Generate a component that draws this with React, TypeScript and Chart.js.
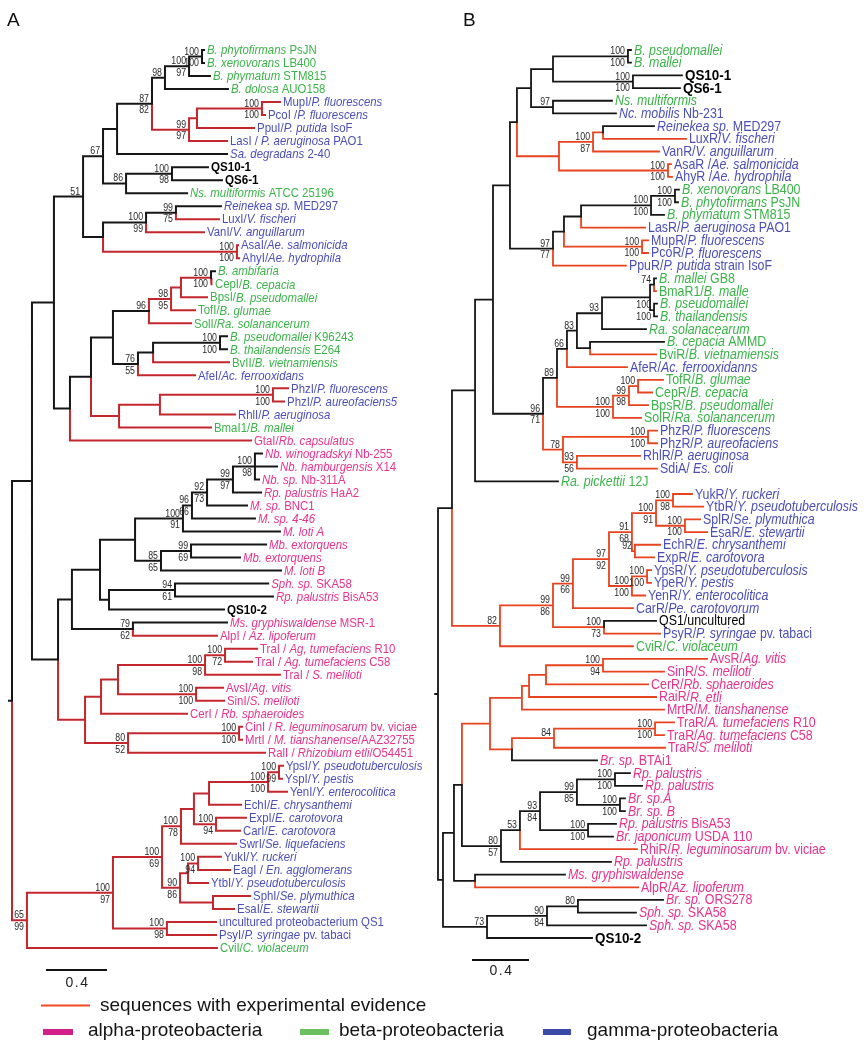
import React, { useEffect, useRef } from 'react';
import { Chart, registerables } from 'chart.js';

Chart.register(...registerables);

// ---------------- DATA ----------------
// Internal nodes: [id, parent, depth (substitutions/site), experimental(red branch)=1, support above, support below]
const nodesA: any[] = [
  ['R', '', 0, 0],
  ['n32', 'R', 0.131, 0],
  ['n27', 'R', 0.098, 1, '65', '99'],
  ['n54', 'n32', 0.275, 0],
  ['n58', 'n32', 0.302, 0],
  ['n83', 'n54', 0.466, 0, '51'],
  ['n70', 'n54', 0.38, 0],
  ['n103a', 'n83', 0.597, 0, '67'],
  ['n103b', 'n83', 0.597, 0],
  ['n117', 'n103a', 0.689, 0],
  ['n126', 'n103a', 0.748, 0, '86'],
  ['n152', 'n117', 0.918, 0, '87', '82'],
  ['n165', 'n152', 1.003, 0, '98'],
  ['n189b', 'n165', 1.161, 0, '100', '97'],
  ['n202', 'n189b', 1.246, 0, '100', '100'],
  ['n189', 'n152', 1.161, 1, '99', '97'],
  ['n197', 'n189', 1.213, 1],
  ['n262', 'n197', 1.639, 1, '100', '100'],
  ['n172', 'n126', 1.049, 0, '100', '98'],
  ['n146', 'n103b', 0.879, 0, '100', '99'],
  ['n176', 'n146', 1.075, 0, '99', '75'],
  ['n237', 'n103b', 1.475, 1, '100', '100'],
  ['n91', 'n70', 0.518, 0],
  ['n113c', 'n91', 0.662, 0],
  ['n149', 'n113c', 0.898, 0, '96'],
  ['n171', 'n149', 1.043, 1, '98', '95'],
  ['n181a', 'n171', 1.108, 1],
  ['n211', 'n181a', 1.305, 1, '100', '100'],
  ['n138', 'n113c', 0.826, 0, '76', '55'],
  ['n153', 'n138', 0.925, 0],
  ['n220', 'n153', 1.364, 0, '100', '100'],
  ['n119', 'n91', 0.702, 1],
  ['n160', 'n119', 0.97, 1],
  ['n273', 'n160', 1.711, 1, '100', '100'],
  ['n72', 'n58', 0.393, 0],
  ['n100', 'n72', 0.577, 0],
  ['n135', 'n100', 0.807, 0],
  ['n183', 'n135', 1.121, 0, '100', '91'],
  ['n192', 'n183', 1.18, 0, '96', '66'],
  ['n207', 'n192', 1.279, 0, '92', '73'],
  ['n233', 'n207', 1.449, 0, '99', '97'],
  ['n255', 'n233', 1.593, 0, '100', '98'],
  ['n161', 'n135', 0.977, 0, '85', '65'],
  ['n191', 'n161', 1.174, 0, '99', '69'],
  ['n109', 'n100', 0.636, 0],
  ['n175', 'n109', 1.069, 0, '94', '61'],
  ['n133', 'n72', 0.793, 0, '79', '62'],
  ['n85', 'n58', 0.479, 1],
  ['n101', 'n85', 0.584, 1],
  ['n118', 'n101', 0.695, 1],
  ['n205', 'n118', 1.266, 1, '100', '98'],
  ['n225', 'n205', 1.397, 1, '100', '72'],
  ['n196', 'n118', 1.207, 1, '100', '100'],
  ['n128', 'n85', 0.761, 1, '80', '52'],
  ['n239', 'n128', 1.489, 1, '100', '100'],
  ['n113', 'n27', 0.662, 1, '100', '97'],
  ['n162', 'n113', 0.984, 1, '100', '69'],
  ['n181', 'n162', 1.108, 1, '100', '78'],
  ['n194', 'n181', 1.193, 1],
  ['n209', 'n194', 1.292, 1],
  ['n268', 'n209', 1.679, 1, '100', '100'],
  ['n279', 'n268', 1.751, 1, '100', '99'],
  ['n216', 'n194', 1.338, 1, '100', '94'],
  ['n180', 'n162', 1.102, 1, '90', '86'],
  ['n188', 'n180', 1.154, 1],
  ['n198', 'n188', 1.22, 1, '100', '94'],
  ['n213', 'n180', 1.318, 1],
  ['n167', 'n113', 1.016, 1, '100', '98'],
];

// Leaves (top to bottom): [label (*italic*), group, parent, depth, red]
// groups: a = alpha, b = beta, g = gamma, q = query clone (bold), k = plain black
const leavesA: any[] = [
  ['*B. phytofirmans* PsJN', 'b', 'n202', 1.259, 0],
  ['*B. xenovorans* LB400', 'b', 'n202', 1.259, 0],
  ['*B. phymatum* STM815', 'b', 'n189b', 1.298, 0],
  ['*B. dolosa* AUO158', 'b', 'n165', 1.416, 0],
  ['MupI/*P. fluorescens*', 'g', 'n262', 1.757, 1],
  ['PcoI /*P. fluorescens*', 'g', 'n262', 1.659, 1],
  ['PpuI/*P. putida* IsoF', 'g', 'n197', 1.587, 1],
  ['LasI / *P. aeruginosa* PAO1', 'g', 'n189', 1.41, 1],
  ['*Sa. degradans* 2-40', 'g', 'n117', 1.41, 0],
  ['QS10-1', 'q', 'n172', 1.285, 0],
  ['QS6-1', 'q', 'n172', 1.377, 0],
  ['*Ns. multiformis* ATCC 25196', 'b', 'n126', 1.148, 0],
  ['*Reinekea sp.* MED297', 'g', 'n176', 1.37, 0],
  ['LuxI/*V. fischeri*', 'g', 'n176', 1.357, 1],
  ['VanI/*V. anguillarum*', 'g', 'n146', 1.259, 1],
  ['AsaI/*Ae. salmonicida*', 'g', 'n237', 1.482, 1],
  ['AhyI/*Ae. hydrophila*', 'g', 'n237', 1.489, 1],
  ['*B. ambifaria*', 'b', 'n211', 1.331, 0],
  ['CepI/*B. cepacia*', 'b', 'n211', 1.311, 1],
  ['BpsI/*B. pseudomallei*', 'b', 'n181a', 1.279, 1],
  ['TofI/*B. glumae*', 'b', 'n171', 1.2, 1],
  ['SolI/*Ra. solanancerum*', 'b', 'n149', 1.174, 1],
  ['*B. pseudomallei* K96243', 'b', 'n220', 1.41, 0],
  ['*B. thailandensis* E264', 'b', 'n220', 1.41, 0],
  ['BvII/*B. vietnamiensis*', 'b', 'n153', 1.423, 1],
  ['AfeI/*Ac. ferrooxidans*', 'g', 'n138', 1.2, 1],
  ['PhzI/*P. fluorescens*', 'g', 'n273', 1.81, 1],
  ['PhzI/*P. aureofaciens5*', 'g', 'n273', 1.784, 1],
  ['RhlI/*P. aeruginosa*', 'g', 'n160', 1.462, 1],
  ['BmaI1/*B. mallei*', 'b', 'n119', 1.305, 1],
  ['GtaI/*Rb. capsulatus*', 'a', 'n70', 1.567, 1],
  ['*Nb. winogradskyi* Nb-255', 'a', 'n255', 1.639, 0],
  ['*Nb. hamburgensis* X14', 'a', 'n255', 1.738, 0],
  ['*Nb. sp.* Nb-311A', 'a', 'n255', 1.62, 0],
  ['*Rp. palustris* HaA2', 'a', 'n233', 1.633, 0],
  ['*M. sp.* BNC1', 'a', 'n207', 1.541, 0],
  ['*M. sp. 4-46*', 'a', 'n192', 1.593, 0],
  ['*M. loti A*', 'a', 'n183', 1.757, 0],
  ['*Mb. extorquens*', 'a', 'n191', 1.666, 0],
  ['*Mb. extorquens*', 'a', 'n191', 1.495, 0],
  ['*M. loti B*', 'a', 'n161', 1.764, 0],
  ['*Sph. sp.* SKA58', 'a', 'n175', 1.68, 0],
  ['*Rp. palustris* BisA53', 'a', 'n175', 1.711, 0],
  ['QS10-2', 'q', 'n109', 1.39, 0],
  ['*Ms. gryphiswaldense* MSR-1', 'a', 'n133', 1.41, 0],
  ['AlpI / *Az. lipoferum*', 'a', 'n133', 1.344, 1],
  ['TraI / *Ag, tumefaciens* R10', 'a', 'n225', 1.607, 1],
  ['TraI / *Ag. tumefaciens* C58', 'a', 'n225', 1.574, 1],
  ['TraI / *S. meliloti*', 'a', 'n205', 1.757, 1],
  ['AvsI/*Ag. vitis*', 'a', 'n196', 1.384, 1],
  ['SinI/*S. meliloti*', 'a', 'n196', 1.39, 1],
  ['CerI / *Rb. sphaeroides*', 'a', 'n101', 1.148, 1],
  ['CinI / *R. leguminosarum* bv. viciae', 'a', 'n239', 1.508, 1],
  ['MrtI / *M. tianshanense*/AAZ32755', 'a', 'n239', 1.508, 1],
  ['RalI / *Rhizobium etli*/O54451', 'a', 'n128', 1.659, 1],
  ['YpsI/*Y. pseudotuberculosis*', 'g', 'n279', 1.777, 1],
  ['YspI/*Y. pestis*', 'g', 'n279', 1.77, 1],
  ['YenI/*Y. enterocolitica*', 'g', 'n268', 1.803, 1],
  ['EchI/*E. chrysanthemi*', 'g', 'n209', 1.502, 1],
  ['ExpI/*E. carotovora*', 'g', 'n216', 1.534, 1],
  ['CarI/*E. carotovora*', 'g', 'n216', 1.495, 1],
  ['SwrI/*Se. liquefaciens*', 'g', 'n181', 1.469, 1],
  ['YukI/*Y. ruckeri*', 'g', 'n198', 1.37, 1],
  ['EagI / *En. agglomerans*', 'g', 'n198', 1.43, 1],
  ['YtbI/*Y. pseudotuberculosis*', 'g', 'n188', 1.285, 1],
  ['SphI/*Se. plymuthica*', 'g', 'n213', 1.561, 1],
  ['EsaI/*E. stewartii*', 'g', 'n213', 1.456, 1],
  ['uncultured proteobacterium QS1', 'g', 'n167', 1.338, 1],
  ['PsyI/*P. syringae* pv. tabaci', 'g', 'n167', 1.338, 1],
  ['CviI/*C. violaceum*', 'b', 'n27', 1.344, 1],
];

const nodesB: any[] = [
  ['R', '', 0, 0],
  ['n452', 'R', 0.098, 0],
  ['n443', 'R', 0.035, 0],
  ['n475', 'n452', 0.26, 0],
  ['n500', 'n452', 0.435, 1, '82'],
  ['n493', 'n475', 0.386, 0],
  ['n510', 'n493', 0.505, 0],
  ['n543', 'n493', 0.737, 0, '96', '71'],
  ['n517', 'n510', 0.554, 0],
  ['n553', 'n510', 0.807, 0, '97', '77'],
  ['n531', 'n517', 0.653, 0],
  ['n559', 'n517', 0.849, 1],
  ['n553a', 'n531', 0.807, 0],
  ['n553b', 'n531', 0.807, 0, '97'],
  ['n628', 'n553a', 1.333, 0, '100', '100'],
  ['n633', 'n553a', 1.368, 0, '100', '100'],
  ['n593', 'n559', 1.088, 1, '100', '87'],
  ['n603a', 'n593', 1.158, 1],
  ['n668', 'n559', 1.614, 1, '100', '100'],
  ['n564', 'n553', 0.884, 0],
  ['n581', 'n564', 1.004, 0],
  ['n651', 'n581', 1.495, 0, '100', '100'],
  ['n675', 'n651', 1.663, 0, '100', '100'],
  ['n642', 'n564', 1.432, 1, '100', '100'],
  ['n557', 'n543', 0.835, 0, '89'],
  ['n567', 'n557', 0.905, 0, '66'],
  ['n577', 'n567', 0.975, 0, '83'],
  ['n602', 'n577', 1.151, 0, '93'],
  ['n650', 'n602', 1.488, 0],
  ['n654h', 'n650', 1.516, 0, '74'],
  ['n654i', 'n650', 1.516, 0, '100', '100'],
  ['n590', 'n577', 1.067, 0],
  ['n613', 'n557', 1.228, 1, '100', '100'],
  ['n629', 'n613', 1.34, 1, '99', '98'],
  ['n638', 'n629', 1.404, 1, '100'],
  ['n563', 'n543', 0.877, 1, '78'],
  ['n648', 'n563', 1.474, 1, '100', '100'],
  ['n577b', 'n563', 0.975, 1, '93', '56'],
  ['nj', 'n500', 0.807, 1, '99', '86'],
  ['nk', 'nj', 0.947, 1, '99', '66'],
  ['nl', 'nj', 1.165, 1, '100', '73'],
  ['nm', 'nk', 1.2, 1, '97', '92'],
  ['nn', 'nm', 1.361, 1, '91', '68'],
  ['no', 'nm', 1.361, 1, '100', '100'],
  ['np', 'no', 1.467, 1, '100', '100'],
  ['n656', 'nn', 1.53, 1, '100', '91'],
  ['n673', 'n656', 1.649, 1, '100', '98'],
  ['n685', 'n656', 1.733, 1, '100', '100'],
  ['n635', 'nn', 1.382, 1, '92'],
  ['n454', 'n443', 0.112, 0],
  ['n487', 'n443', 0.344, 0, '73'],
  ['n462', 'n454', 0.168, 0],
  ['n475b', 'n454', 0.26, 0],
  ['n490', 'n462', 0.365, 1],
  ['n501', 'n462', 0.442, 0, '80', '57'],
  ['n522', 'n490', 0.589, 1],
  ['n529', 'n522', 0.639, 1],
  ['n546', 'n529', 0.758, 1],
  ['n603b', 'n546', 1.158, 1, '100', '94'],
  ['n512', 'n490', 0.519, 1],
  ['n554', 'n512', 0.814, 1, '84'],
  ['n655', 'n554', 1.523, 1, '100', '100'],
  ['n520', 'n501', 0.575, 0, '53'],
  ['n540', 'n520', 0.716, 0, '93', '84'],
  ['n577c', 'n540', 0.975, 0, '99', '85'],
  ['n615', 'n577c', 1.242, 0, '100', '100'],
  ['n620', 'n577c', 1.277, 0, '100', '100'],
  ['n588', 'n540', 1.053, 0, '100', '100'],
  ['n547', 'n487', 0.765, 0, '90', '84'],
  ['n578', 'n547', 0.982, 0, '80'],
];

const leavesB: any[] = [
  ['*B. pseudomallei*', 'b', 'n628', 1.354, 0],
  ['*B. mallei*', 'b', 'n628', 1.354, 0],
  ['QS10-1', 'q', 'n633', 1.712, 0],
  ['QS6-1', 'q', 'n633', 1.698, 0],
  ['*Ns. multiformis*', 'b', 'n553b', 1.221, 0],
  ['*Nc. mobilis* Nb-231', 'g', 'n553b', 1.249, 0],
  ['*Reinekea sp.* MED297', 'g', 'n603a', 1.516, 0],
  ['LuxR/*V. fischeri*', 'g', 'n603a', 1.74, 1],
  ['VanR/*V. anguillarum*', 'g', 'n593', 1.551, 1],
  ['AsaR /*Ae. salmonicida*', 'g', 'n668', 1.635, 1],
  ['AhyR /*Ae. hydrophila*', 'g', 'n668', 1.642, 1],
  ['*B. xenovorans* LB400', 'b', 'n675', 1.691, 0],
  ['*B. phytofirmans* PsJN', 'b', 'n675', 1.684, 0],
  ['*B. phymatum* STM815', 'b', 'n651', 1.586, 0],
  ['LasR/*P. aeruginosa* PAO1', 'g', 'n581', 1.453, 1],
  ['MupR/*P. fluorescens*', 'g', 'n642', 1.474, 1],
  ['PcoR/*P. fluorescens*', 'g', 'n642', 1.474, 1],
  ['PpuR/*P. putida* strain IsoF', 'g', 'n553', 1.319, 1],
  ['*B. mallei* GB8', 'b', 'n654h', 1.53, 0],
  ['BmaR1/*B. malle*', 'b', 'n654h', 1.53, 1],
  ['*B. pseudomallei*', 'b', 'n654i', 1.537, 0],
  ['*B. thailandensis*', 'b', 'n654i', 1.537, 0],
  ['*Ra. solanacearum*', 'b', 'n602', 1.46, 0],
  ['*B. cepacia* AMMD', 'b', 'n590', 1.586, 0],
  ['BviR/*B. vietnamiensis*', 'b', 'n590', 1.53, 1],
  ['AfeR/*Ac. ferrooxidanns*', 'g', 'n567', 1.326, 1],
  ['TofR/*B. glumae*', 'b', 'n638', 1.579, 1],
  ['CepR/*B. cepacia*', 'b', 'n638', 1.502, 1],
  ['BpsR/*B. pseudomallei*', 'b', 'n629', 1.474, 1],
  ['SolR/*Ra. solanancerum*', 'b', 'n613', 1.425, 1],
  ['PhzR/*P. fluorescens*', 'g', 'n648', 1.537, 1],
  ['PhzR/*P. aureofaciens*', 'g', 'n648', 1.537, 1],
  ['RhlR/*P. aeruginosa*', 'g', 'n577b', 1.418, 1],
  ['SdiA/ *Es. coli*', 'g', 'n577b', 1.537, 1],
  ['*Ra. pickettii* 12J', 'b', 'n475', 0.842, 0],
  ['YukR/*Y. ruckeri*', 'g', 'n673', 1.782, 1],
  ['YtbR/*Y. pseudotuberculosis*', 'g', 'n673', 1.86, 1],
  ['SplR/*Se. plymuthica*', 'g', 'n685', 1.839, 1],
  ['EsaR/*E. stewartii*', 'g', 'n685', 1.888, 1],
  ['EchR/*E. chrysanthemi*', 'g', 'n635', 1.558, 1],
  ['ExpR/*E. carotovora*', 'g', 'n635', 1.516, 1],
  ['YpsR/*Y. pseudotuberculosis*', 'g', 'np', 1.495, 1],
  ['YpeR/*Y. pestis*', 'g', 'np', 1.495, 1],
  ['YenR/*Y. enterocolitica*', 'g', 'no', 1.453, 1],
  ['CarR/*Pe. carotovorum*', 'g', 'nk', 1.368, 1],
  ['QS1/uncultured', 'k', 'nl', 1.53, 0],
  ['PsyR/*P. syringae* pv. tabaci', 'g', 'nl', 1.558, 1],
  ['CviR/*C. violaceum*', 'b', 'n500', 1.368, 1],
  ['AvsR/*Ag. vitis*', 'a', 'n603b', 1.888, 1],
  ['SinR/*S. meliloti*', 'a', 'n603b', 1.586, 1],
  ['CerR/*Rb. sphaeroides*', 'a', 'n546', 1.474, 1],
  ['RaiR/*R. etli*', 'a', 'n529', 1.53, 1],
  ['MrtR/*M. tianshanense*', 'a', 'n522', 1.586, 1],
  ['TraR/*A. tumefaciens* R10', 'a', 'n655', 1.656, 1],
  ['TraR/*Ag. tumefaciens* C58', 'a', 'n655', 1.586, 1],
  ['TraR/*S. meliloti*', 'a', 'n554', 1.593, 1],
  ['*Br. sp.* BTAi1', 'a', 'n512', 1.116, 0],
  ['*Rp. palustris*', 'a', 'n615', 1.347, 0],
  ['*Rp. palustris*', 'a', 'n615', 1.432, 0],
  ['*Br. sp.A*', 'a', 'n620', 1.312, 0],
  ['*Br. sp. B*', 'a', 'n620', 1.312, 0],
  ['*Rp. palustris* BisA53', 'a', 'n588', 1.249, 0],
  ['*Br. japonicum* USDA 110', 'a', 'n588', 1.228, 0],
  ['RhiR/*R. leguminosarum* bv. viciae', 'a', 'n520', 1.396, 1],
  ['*Rp. palustris*', 'a', 'n501', 1.214, 0],
  ['*Ms. gryphiswaldense*', 'a', 'n475b', 0.891, 0],
  ['AlpR/*Az. lipoferum*', 'a', 'n475b', 1.404, 1],
  ['*Br. sp.* ORS278', 'a', 'n578', 1.579, 0],
  ['*Sph. sp.* SKA58', 'a', 'n578', 1.389, 0],
  ['*Sph. sp.* SKA58', 'a', 'n547', 1.46, 0],
  ['QS10-2', 'q', 'n487', 1.081, 0],
];

const SCALE_BAR_VALUE = 0.4;
const SCALE_BAR_LABEL = '0.4';
const legendItems = ['sequences with experimental evidence', 'alpha-proteobacteria', 'beta-proteobacteria', 'gamma-proteobacteria'];

// ---------------- LAYOUT / STYLE ----------------
const W = 864;
const H = 1050;
const FONT = '"Liberation Sans", Arial, Helvetica, sans-serif';
const GROUP_COLORS: Record<string, string> = { a: '#e8338c', b: '#3cb34a', g: '#4c4fb8', q: '#000000', k: '#000000' };
const BLACK = '#161616';
const PANELS: any = {
  A: { letter: 'A', letterX: 7, letterY: 26, rootPx: 12, pxPerUnit: 152.5, firstLeafPx: 50, leafStep: 13.014,
    barStartPx: 46, barPx: 970, barLabelPx: 983, lw: 2, red: '#c3272e', font: 13.5, sx: 0.845, boldSx: 0.86 },
  B: { letter: 'B', letterX: 463, letterY: 26, rootPx: 438, pxPerUnit: 142.5, firstLeafPx: 50, leafStep: 12.686,
    barStartPx: 472, barPx: 960, barLabelPx: 971, lw: 1.8, red: '#e8431f', font: 14.5, sx: 0.855, boldSx: 0.925 },
};
const ROOT_STUB = 0.02;
const SUP_SIZE = 10;
const SUP_SX = 0.88;

function buildTree(nodes: any[], leaves: any[]) {
  const info: Record<string, any> = {};
  nodes.forEach((n) => {
    info[n[0]] = { id: n[0], parent: n[1], depth: n[2], red: n[3], up: n[4] || '', down: n[5] || '', kids: [], y: 0 };
  });
  const leafObjs = leaves.map((l, i) => ({ label: l[0], group: l[1], parent: l[2], depth: l[3], red: l[4], y: i, kids: null }));
  nodes.forEach((n) => { if (n[1]) info[n[1]].kids.push(info[n[0]]); });
  leafObjs.forEach((l) => info[l.parent].kids.push(l));
  const setY = (nd: any): number => {
    if (!nd.kids) return nd.y;
    const ys = nd.kids.map(setY);
    nd.y = (Math.min(...ys) + Math.max(...ys)) / 2;
    return nd.y;
  };
  const rootRow = nodes.find((n) => !n[1]);
  const root = info[rootRow[0]];
  setY(root);
  const black: any[] = [];
  const red: any[] = [];
  const addEdge = (c: any) => {
    const p = info[c.parent];
    const arr = c.red ? red : black;
    arr.push({ x: p.depth, y: p.y }, { x: p.depth, y: c.y }, { x: c.depth, y: c.y }, { x: NaN, y: NaN });
  };
  Object.values(info).forEach((n: any) => { if (n.parent) addEdge(n); });
  leafObjs.forEach(addEdge);
  black.push({ x: root.depth - ROOT_STUB, y: root.y }, { x: root.depth, y: root.y }, { x: NaN, y: NaN });
  return { nodes: Object.values(info), leaves: leafObjs, black, red };
}

function drawRich(ctx: CanvasRenderingContext2D, text: string, x: number, y: number, size: number, color: string, sx: number, bold: boolean) {
  const parts = text.split('*');
  ctx.save();
  ctx.translate(x, y);
  ctx.scale(sx, 1);
  ctx.fillStyle = color;
  ctx.textBaseline = 'middle';
  ctx.textAlign = 'left';
  let cx = 0;
  parts.forEach((seg, i) => {
    if (!seg) return;
    ctx.font = `${i % 2 ? 'italic ' : ''}${bold ? 'bold ' : ''}${size}px ${FONT}`;
    ctx.fillText(seg, cx, 0);
    cx += ctx.measureText(seg).width;
  });
  ctx.restore();
}

function drawSupport(ctx: CanvasRenderingContext2D, text: string, xRight: number, y: number, above: boolean) {
  ctx.save();
  ctx.font = `${SUP_SIZE}px ${FONT}`;
  const w = ctx.measureText(text).width * SUP_SX;
  ctx.translate(xRight - w, y);
  ctx.scale(SUP_SX, 1);
  ctx.fillStyle = '#2a2a2a';
  ctx.textAlign = 'left';
  ctx.textBaseline = above ? 'alphabetic' : 'top';
  ctx.fillText(text, 0, above ? -2 : 2);
  ctx.restore();
}

export default function App() {
  const ref = useRef<HTMLCanvasElement>(null);

  useEffect(() => {
    document.body.style.margin = '0';
    const trees: any = { A: buildTree(nodesA, leavesA), B: buildTree(nodesB, leavesB) };

    const scales: any = {};
    const datasets: any[] = [];
    (['A', 'B'] as const).forEach((k) => {
      const P = PANELS[k];
      scales['x' + k] = { type: 'linear', axis: 'x', position: 'bottom', display: false,
        min: -P.rootPx / P.pxPerUnit, max: (W - P.rootPx) / P.pxPerUnit };
      scales['y' + k] = { type: 'linear', axis: 'y', position: 'left', display: false, reverse: true,
        min: -P.firstLeafPx / P.leafStep, max: (H - P.firstLeafPx) / P.leafStep };
      const common = { xAxisID: 'x' + k, yAxisID: 'y' + k, showLine: true, pointRadius: 0, pointHoverRadius: 0,
        borderWidth: P.lw, spanGaps: false, borderCapStyle: 'square', borderJoinStyle: 'miter', fill: false, tension: 0 };
      datasets.push({ ...common, label: k + ' branches', data: trees[k].black, borderColor: BLACK, backgroundColor: BLACK });
      datasets.push({ ...common, label: k + ' experimental', data: trees[k].red, borderColor: P.red, backgroundColor: P.red });
      const bx = (P.barStartPx - P.rootPx) / P.pxPerUnit;
      const by = (P.barPx - P.firstLeafPx) / P.leafStep;
      datasets.push({ ...common, label: k + ' scale', borderCapStyle: 'butt', borderWidth: 2,
        data: [{ x: bx, y: by }, { x: bx + SCALE_BAR_VALUE, y: by }], borderColor: '#111', backgroundColor: '#111' });
    });

    const textPlugin = {
      id: 'treeText',
      afterDatasetsDraw(chart: any) {
        const ctx: CanvasRenderingContext2D = chart.ctx;
        (['A', 'B'] as const).forEach((k) => {
          const P = PANELS[k];
          const xs = chart.scales['x' + k];
          const ys = chart.scales['y' + k];
          const t = trees[k];
          t.leaves.forEach((l: any) => {
            const px = xs.getPixelForValue(l.depth) + 3;
            const py = ys.getPixelForValue(l.y);
            const bold = l.group === 'q';
            drawRich(ctx, l.label, px, py + 0.5, P.font, GROUP_COLORS[l.group], bold ? P.boldSx : P.sx, bold);
          });
          t.nodes.forEach((n: any) => {
            const px = xs.getPixelForValue(n.depth) - 3;
            const py = ys.getPixelForValue(n.y);
            if (n.up) drawSupport(ctx, n.up, px, py, true);
            if (n.down) drawSupport(ctx, n.down, px, py, false);
          });
          // panel letter
          ctx.save();
          ctx.font = `19px ${FONT}`;
          ctx.fillStyle = '#111';
          ctx.textBaseline = 'alphabetic';
          ctx.fillText(P.letter, P.letterX, P.letterY);
          // scale label
          const bx = (P.barStartPx - P.rootPx) / P.pxPerUnit;
          const cxp = (xs.getPixelForValue(bx) + xs.getPixelForValue(bx + SCALE_BAR_VALUE)) / 2;
          ctx.font = `14px ${FONT}`;
          try { (ctx as any).letterSpacing = '1.5px'; } catch (e) { /* ignore */ }
          ctx.textAlign = 'center';
          ctx.textBaseline = 'middle';
          ctx.fillStyle = '#222';
          ctx.fillText(SCALE_BAR_LABEL, cxp + 1, P.barLabelPx);
          ctx.restore();
        });

        // legend
        ctx.save();
        ctx.strokeStyle = '#f04a23';
        ctx.lineWidth = 2;
        ctx.beginPath();
        ctx.moveTo(41, 1005.5);
        ctx.lineTo(90, 1005.5);
        ctx.stroke();
        ctx.font = `19px ${FONT}`;
        ctx.fillStyle = '#151515';
        ctx.textBaseline = 'middle';
        ctx.textAlign = 'left';
        ctx.fillText(legendItems[0], 100, 1006);
        const bars = [
          { color: '#d21f8a', x: 43, w: 30, tx: 88, text: legendItems[1] },
          { color: '#6cc05f', x: 300, w: 29, tx: 339, text: legendItems[2] },
          { color: '#3b4aa6', x: 543, w: 28, tx: 587, text: legendItems[3] },
        ];
        bars.forEach((b) => {
          ctx.fillStyle = b.color;
          ctx.fillRect(b.x, 1029, b.w, 6);
          ctx.fillStyle = '#151515';
          ctx.fillText(b.text, b.tx, 1031);
        });
        ctx.restore();
      },
    };

    const chart = new Chart(ref.current as HTMLCanvasElement, {
      type: 'scatter',
      data: { datasets },
      options: {
        animation: false,
        responsive: false,
        devicePixelRatio: 1,
        events: [],
        layout: { padding: 0 },
        plugins: { legend: { display: false }, tooltip: { enabled: false }, title: { display: false } },
        scales,
      } as any,
      plugins: [textPlugin as any],
    });
    return () => chart.destroy();
  }, []);

  return (
    <div style={{ width: W, height: H, overflow: 'hidden', background: '#fff' }}>
      <canvas ref={ref} width={W} height={H} style={{ display: 'block', width: W, height: H }} />
    </div>
  );
}
